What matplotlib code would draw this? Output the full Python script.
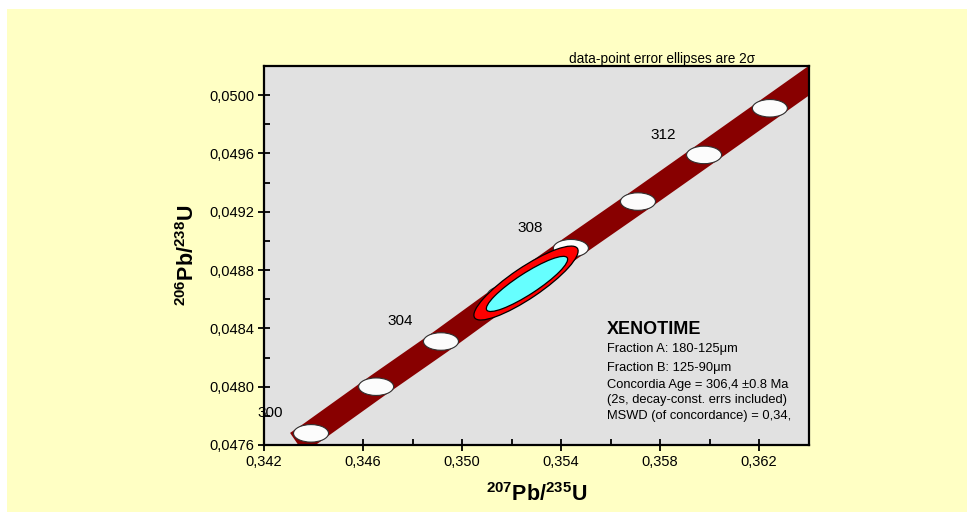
import matplotlib
matplotlib.use('Agg')
import matplotlib.pyplot as plt
from matplotlib.patches import Ellipse, Rectangle
from matplotlib.transforms import ScaledTranslation
from matplotlib.ticker import AutoMinorLocator

plt.rcParams['font.family'] = ['Liberation Sans', 'DejaVu Sans']
plt.rcParams['mathtext.fontset'] = 'custom'
plt.rcParams['mathtext.rm'] = 'Liberation Sans'
plt.rcParams['mathtext.bf'] = 'Liberation Sans:bold'

# concordia age marks (Ma) and the centres of their ellipses
ages = [300, 302, 304, 306, 308, 310, 312, 314]
age_x = [0.34390, 0.34653, 0.34915, 0.35174, 0.35440, 0.35711, 0.35978, 0.36244]
age_y = [0.04768, 0.04800, 0.04831, 0.04863, 0.04895, 0.04927, 0.04959, 0.04991]
labelled_ages = [300, 304, 308, 312]

# ends of the concordia band
band_start = (0.34333, 0.047614)
band_end = (0.36500, 0.050218)

# data ellipses (fraction / concordia age)
red_centre = (0.352586, 0.048711)
cyan_centre = (0.352626, 0.048705)

x_ticks = [0.342, 0.346, 0.350, 0.354, 0.358, 0.362]
y_ticks = [0.0476, 0.0480, 0.0484, 0.0488, 0.0492, 0.0496, 0.0500]

info_lines = ['Fraction A: 180-125\u03bcm',
              'Fraction B: 125-90\u03bcm',
              'Concordia Age = 306,4 \u00b10.8 Ma',
              '(2s, decay-const. errs included)',
              'MSWD (of concordance) = 0,34,']

yellow = '#FFFFC4'
fig = plt.figure(figsize=(9.67, 5.12), dpi=100, facecolor='white')
fig.add_artist(Rectangle((7 / 967, 0), 1, 1 - 9 / 512, transform=fig.transFigure,
                         facecolor=yellow, edgecolor='none', zorder=-10))
ax = fig.add_axes([264 / 967, 1 - 445 / 512, 545 / 967, 379 / 512])
ax.set_facecolor('#E1E1E1')

ax.set_xlim(0.342, 0.36402)
ax.set_ylim(0.0476, 0.0502)


def pix_ellipse(centre, w_px, h_px, angle, **kw):
    # size given in pixels, centre in data units
    tr = fig.dpi_scale_trans + ScaledTranslation(centre[0], centre[1], ax.transData)
    e = Ellipse((0, 0), w_px / 100, h_px / 100, angle=angle, transform=tr, **kw)
    ax.add_patch(e)
    return e


# concordia band
ax.plot([band_start[0]] + age_x + [band_end[0]],
        [band_start[1]] + age_y + [band_end[1]],
        color='#880000', lw=17.5, solid_capstyle='butt', solid_joinstyle='round', zorder=2)

# age ellipses
for x, y in zip(age_x, age_y):
    pix_ellipse((x, y), 35, 17.5, 0, facecolor='#FCFCFC', edgecolor='#303030', lw=0.8, zorder=3)

for a, x, y in zip(ages, age_x, age_y):
    if a in labelled_ages:
        ax.annotate(str(a), (x, y), xytext=(-29.5, 14.5), textcoords='offset points',
                    ha='center', va='center', fontsize=11, annotation_clip=False, zorder=6)

pix_ellipse(red_centre, 124, 31, 34, facecolor='#FF0000', edgecolor='black', lw=0.9, zorder=4)
pix_ellipse(cyan_centre, 96, 21, 33, facecolor='#66FFFF', edgecolor='black', lw=0.9, zorder=5)

# axes
for s in ax.spines.values():
    s.set_linewidth(1.6)
    s.set_color('black')
ax.set_xticks(x_ticks)
ax.set_xticklabels([f'{v:.3f}'.replace('.', ',') for v in x_ticks])
ax.set_yticks(y_ticks)
ax.set_yticklabels([f'{v:.4f}'.replace('.', ',') for v in y_ticks])
ax.xaxis.set_minor_locator(AutoMinorLocator(2))
ax.yaxis.set_minor_locator(AutoMinorLocator(2))
ax.tick_params(which='major', direction='inout', length=8, width=1.3, labelsize=10.5, pad=3)
ax.tick_params(which='minor', direction='in', length=4, width=1.3)

ax.set_xlabel(r'$\mathbf{^{207}Pb/^{235}U}$', fontsize=15.5, va='center')
ax.xaxis.set_label_coords(0.5, -0.132)
ax.set_ylabel(r'$\mathbf{^{206}Pb/^{238}U}$', fontsize=15.5, va='center')
ax.yaxis.set_label_coords(-0.141, 0.5)

ax.text(0.5596, 1.0185, 'data-point error ellipses are 2\u03c3', transform=ax.transAxes,
        fontsize=9.8, ha='left', va='center', clip_on=False)

ax.text(0.629, 0.306, 'XENOTIME', transform=ax.transAxes, fontsize=13,
        fontweight='bold', ha='left', va='center')
for line, yy in zip(info_lines, [0.2533, 0.2032, 0.1583, 0.1187, 0.0765]):
    ax.text(0.629, yy, line, transform=ax.transAxes, fontsize=9.3, ha='left', va='center')

fig.savefig('out.png', dpi=100, facecolor=fig.get_facecolor())
